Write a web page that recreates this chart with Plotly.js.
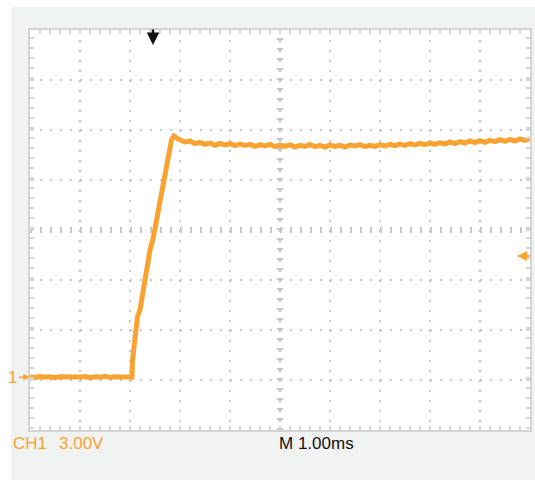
<!DOCTYPE html>
<html>
<head>
<meta charset="utf-8">
<script src="https://cdn.plot.ly/plotly-3.0.1.min.js"></script>
<style>
  html, body { margin: 0; padding: 0; background: #ffffff; }
  #chart { position: absolute; left: 0; top: 0; width: 535px; height: 480px; }
</style>
</head>
<body>
<div id="chart"></div>
<script>
const lowTime = [0.0, 0.1, 0.2, 0.3, 0.4, 0.5, 0.6, 0.7, 0.8, 0.9, 1.0, 1.1, 1.2, 1.3, 1.4, 1.5, 1.6, 1.7, 1.8, 1.9, 2.0, 2.04];
const lowVolt = [0.06, 0.03, 0.09, 0.04, 0.08, 0.02, 0.07, 0.05, 0.10, 0.03, 0.06, 0.09, 0.02, 0.08, 0.04, 0.10, 0.03, 0.07, 0.05, 0.09, 0.02, 0.05];

const riseTime = [2.05, 2.10, 2.15, 2.20, 2.27, 2.33, 2.40, 2.47, 2.53, 2.60, 2.67, 2.71, 2.77, 2.83, 2.88, 2.93];
const riseVolt = [1.08, 2.28, 3.68, 4.08, 5.48, 6.48, 7.68, 8.48, 9.48, 10.68, 11.68, 12.48, 13.68, 14.28, 14.52, 14.40];

const highTime = [3.0, 3.1, 3.2, 3.3, 3.4, 3.5, 3.6, 3.7, 3.8, 3.9,
                  4.0, 4.1, 4.2, 4.3, 4.4, 4.5, 4.6, 4.7, 4.8, 4.9,
                  5.0, 5.1, 5.2, 5.3, 5.4, 5.5, 5.6, 5.7, 5.8, 5.9,
                  6.0, 6.1, 6.2, 6.3, 6.4, 6.5, 6.6, 6.7, 6.8, 6.9,
                  7.0, 7.1, 7.2, 7.3, 7.4, 7.5, 7.6, 7.7, 7.8, 7.9,
                  8.0, 8.1, 8.2, 8.3, 8.4, 8.5, 8.6, 8.7, 8.8, 8.9,
                  9.0, 9.1, 9.2, 9.3, 9.4, 9.5, 9.6, 9.7, 9.8, 9.9, 10.0];
const highVolt = [14.28, 14.16, 14.22, 14.06, 14.14, 14.02, 14.10, 13.96, 14.08, 13.98,
                  14.06, 13.94, 14.04, 13.96, 14.02, 13.90, 14.00, 13.92, 14.02, 13.88,
                  13.98, 13.90, 14.00, 13.86, 13.96, 13.90, 14.00, 13.88, 13.96, 13.86,
                  13.98, 13.90, 13.96, 13.86, 13.98, 13.92, 14.00, 13.88, 13.96, 13.90,
                  14.00, 13.92, 14.02, 13.94, 14.04, 13.96, 14.06, 13.98, 14.08, 14.00,
                  14.10, 14.02, 14.12, 14.04, 14.16, 14.06, 14.18, 14.10, 14.22, 14.12,
                  14.24, 14.14, 14.26, 14.18, 14.30, 14.20, 14.32, 14.22, 14.34, 14.26, 14.36];

// Screen settings
const timeRange = [0, 10];            // 10 divisions x 1.00 ms
const voltRange = [-3.12, 20.88];     // 8 divisions x 3.00 V, ground 0 V
const voltDiv = 3;
const timeDiv = 1;
const triggerTime = 2.46;
const triggerLevel = 7.32;
const chLabel = "CH1";
const scaleLabel = "3.00V";
const timebaseLabel = "M 1.00ms";

const orange = "#f8a232";
const gridCol = "#c6c6c6";
const borderCol = "#d4d4d4";
const txtFont = "Liberation Sans, Arial, sans-serif";

const time = lowTime.concat(riseTime, highTime);
const volt = lowVolt.concat(riseVolt, highVolt);

const trace = {
  x: time, y: volt, type: "scatter", mode: "lines",
  line: { color: orange, width: 5 },
  hoverinfo: "skip"
};

const axisCommon = {
  showticklabels: false, zeroline: false,
  showgrid: true, gridcolor: gridCol, gridwidth: 2, griddash: "2px,8px",
  showline: true, linecolor: borderCol, linewidth: 2, mirror: "allticks",
  ticks: "inside", ticklen: 4, tickwidth: 1.5, tickcolor: borderCol,
  fixedrange: true
};

const layout = {
  width: 535, height: 480,
  margin: { l: 30, r: 5, t: 30, b: 50, pad: 0 },
  paper_bgcolor: "#f1f2f2",
  plot_bgcolor: "#ffffff",
  showlegend: false,
  xaxis: Object.assign({}, axisCommon, {
    range: timeRange, dtick: timeDiv, tick0: 0,
    minor: { dtick: timeDiv / 5, ticks: "inside", ticklen: 4, tickwidth: 1.5, tickcolor: borderCol, showgrid: false }
  }),
  yaxis: Object.assign({}, axisCommon, {
    range: voltRange, dtick: voltDiv, tick0: voltRange[0],
    minor: { dtick: voltDiv / 5, ticks: "inside", ticklen: 4, tickwidth: 1.5, tickcolor: borderCol, showgrid: false }
  }),
  shapes: [
    // white page strips outside the grey instrument frame
    { type: "rect", layer: "below", xref: "paper", yref: "paper", x0: -0.07, x1: -0.038, y0: -0.2, y1: 1.2,
      fillcolor: "#ffffff", line: { width: 0 } },
    { type: "rect", layer: "below", xref: "paper", yref: "paper", x0: -0.07, x1: 1.02, y0: 1.0575, y1: 1.2,
      fillcolor: "#ffffff", line: { width: 0 } },
    // centre cross with division marks
    { type: "line", layer: "below", xref: "x", yref: "y", x0: 5, x1: 5, y0: voltRange[0], y1: voltRange[1],
      line: { color: gridCol, width: 6, dash: "2px,8px" } },
    { type: "line", layer: "below", xref: "x", yref: "y", x0: 0, x1: 10, y0: 8.88, y1: 8.88,
      line: { color: gridCol, width: 6, dash: "2px,8px" } }
  ],
  annotations: [
    { x: 0, y: 0.05, xref: "x", yref: "y", text: "1", showarrow: true, ax: -11, ay: 0,
      xanchor: "right", arrowhead: 2, arrowsize: 0.9, arrowwidth: 1.5, arrowcolor: orange,
      font: { family: txtFont, size: 17, color: orange } },
    { x: 9.74, y: triggerLevel, xref: "x", yref: "y", text: "", showarrow: true, ax: 14, ay: 0,
      arrowhead: 2, arrowsize: 1, arrowwidth: 2, arrowcolor: orange },
    { x: triggerTime, y: 0.9625, xref: "x", yref: "paper", text: "", showarrow: true, ax: 0, ay: -17,
      arrowhead: 2, arrowsize: 1, arrowwidth: 2.5, arrowcolor: "#111111" },
    { x: -0.038, y: -0.0325, xref: "paper", yref: "paper", text: chLabel, showarrow: false,
      xanchor: "left", yanchor: "middle",
      font: { family: txtFont, size: 17, color: orange } },
    { x: 0.054, y: -0.0325, xref: "paper", yref: "paper", text: scaleLabel, showarrow: false,
      xanchor: "left", yanchor: "middle",
      font: { family: txtFont, size: 17, color: orange } },
    { x: 0.494, y: -0.0325, xref: "paper", yref: "paper", text: timebaseLabel, showarrow: false,
      xanchor: "left", yanchor: "middle",
      font: { family: txtFont, size: 17, color: "#111111" } }
  ]
};

Plotly.newPlot("chart", [trace], layout, { displayModeBar: false, staticPlot: true });
</script>
</body>
</html>
